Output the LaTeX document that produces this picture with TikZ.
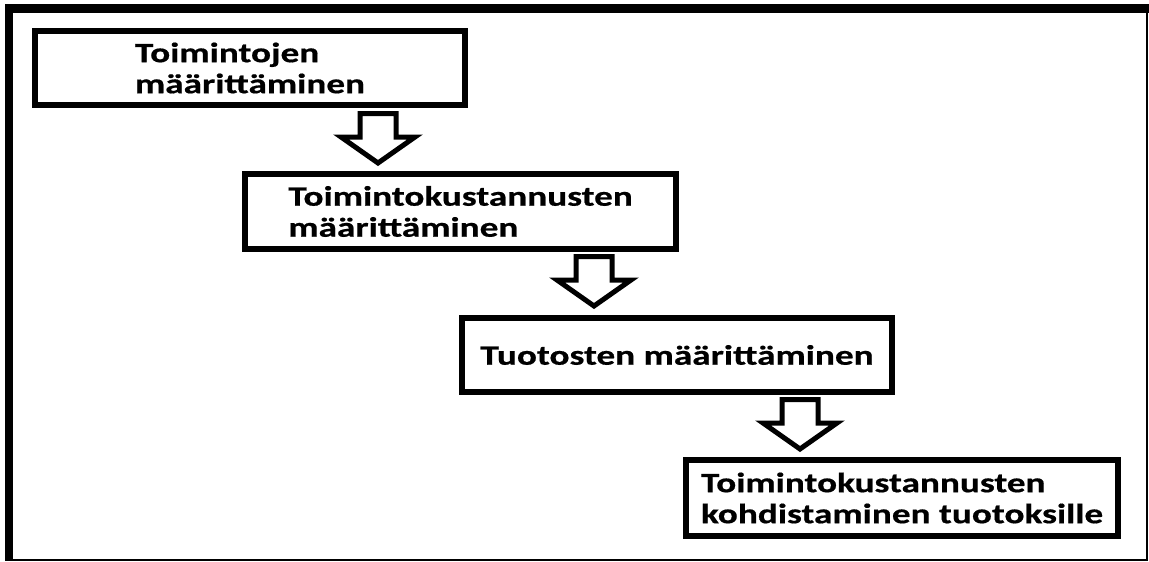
\documentclass[tikz,border=0pt]{standalone}
\usepackage{fontspec}
\setmainfont{Carlito}
\newfontfamily\boxfont{Carlito}[FakeStretch=1.33,FakeBold=0.6]
\begin{document}
\begin{tikzpicture}[x=1pt,y=-1pt,
  stepbox/.style={draw=black, line width=6pt, fill=white, inner sep=0pt,
    align=left, font=\boxfont\bfseries\fontsize{28}{31}\selectfont},
  barrow/.pic={\draw[line width=5pt, line join=miter, fill=white]
     (-18,2.5) -- (18,2.5) -- (18,26) -- (37,26) -- (0,52) -- (-37,26) -- (-18,26) -- cycle;}
]
\useasboundingbox (0,0) rectangle (1149,562);
% outer frame
\fill[black] (5,4) rectangle (1149,13);
\fill[black] (5,4) rectangle (13,561);
\fill[black] (1146,4) rectangle (1148,561);
\fill[black] (5,559) rectangle (1148,561);
% boxes
\node[stepbox, minimum width=430pt, minimum height=74pt] (b1) at (250,68) {Toimintojen\\määrittäminen};
\node[stepbox, minimum width=431pt, minimum height=75pt] (b2) at (460.5,211.5) {Toimintokustannusten\\määrittäminen};
\node[stepbox, minimum width=430pt, minimum height=74pt] (b3) at (677,355) {Tuotosten määrittäminen};
\node[stepbox, minimum width=432pt, minimum height=76pt] (b4) at (902,498) {Toimintokustannusten\\kohdistaminen tuotoksille};
% arrows
\pic at (378,111) {barrow};
\pic at (594,254) {barrow};
\pic at (800,397) {barrow};
\end{tikzpicture}
\end{document}
